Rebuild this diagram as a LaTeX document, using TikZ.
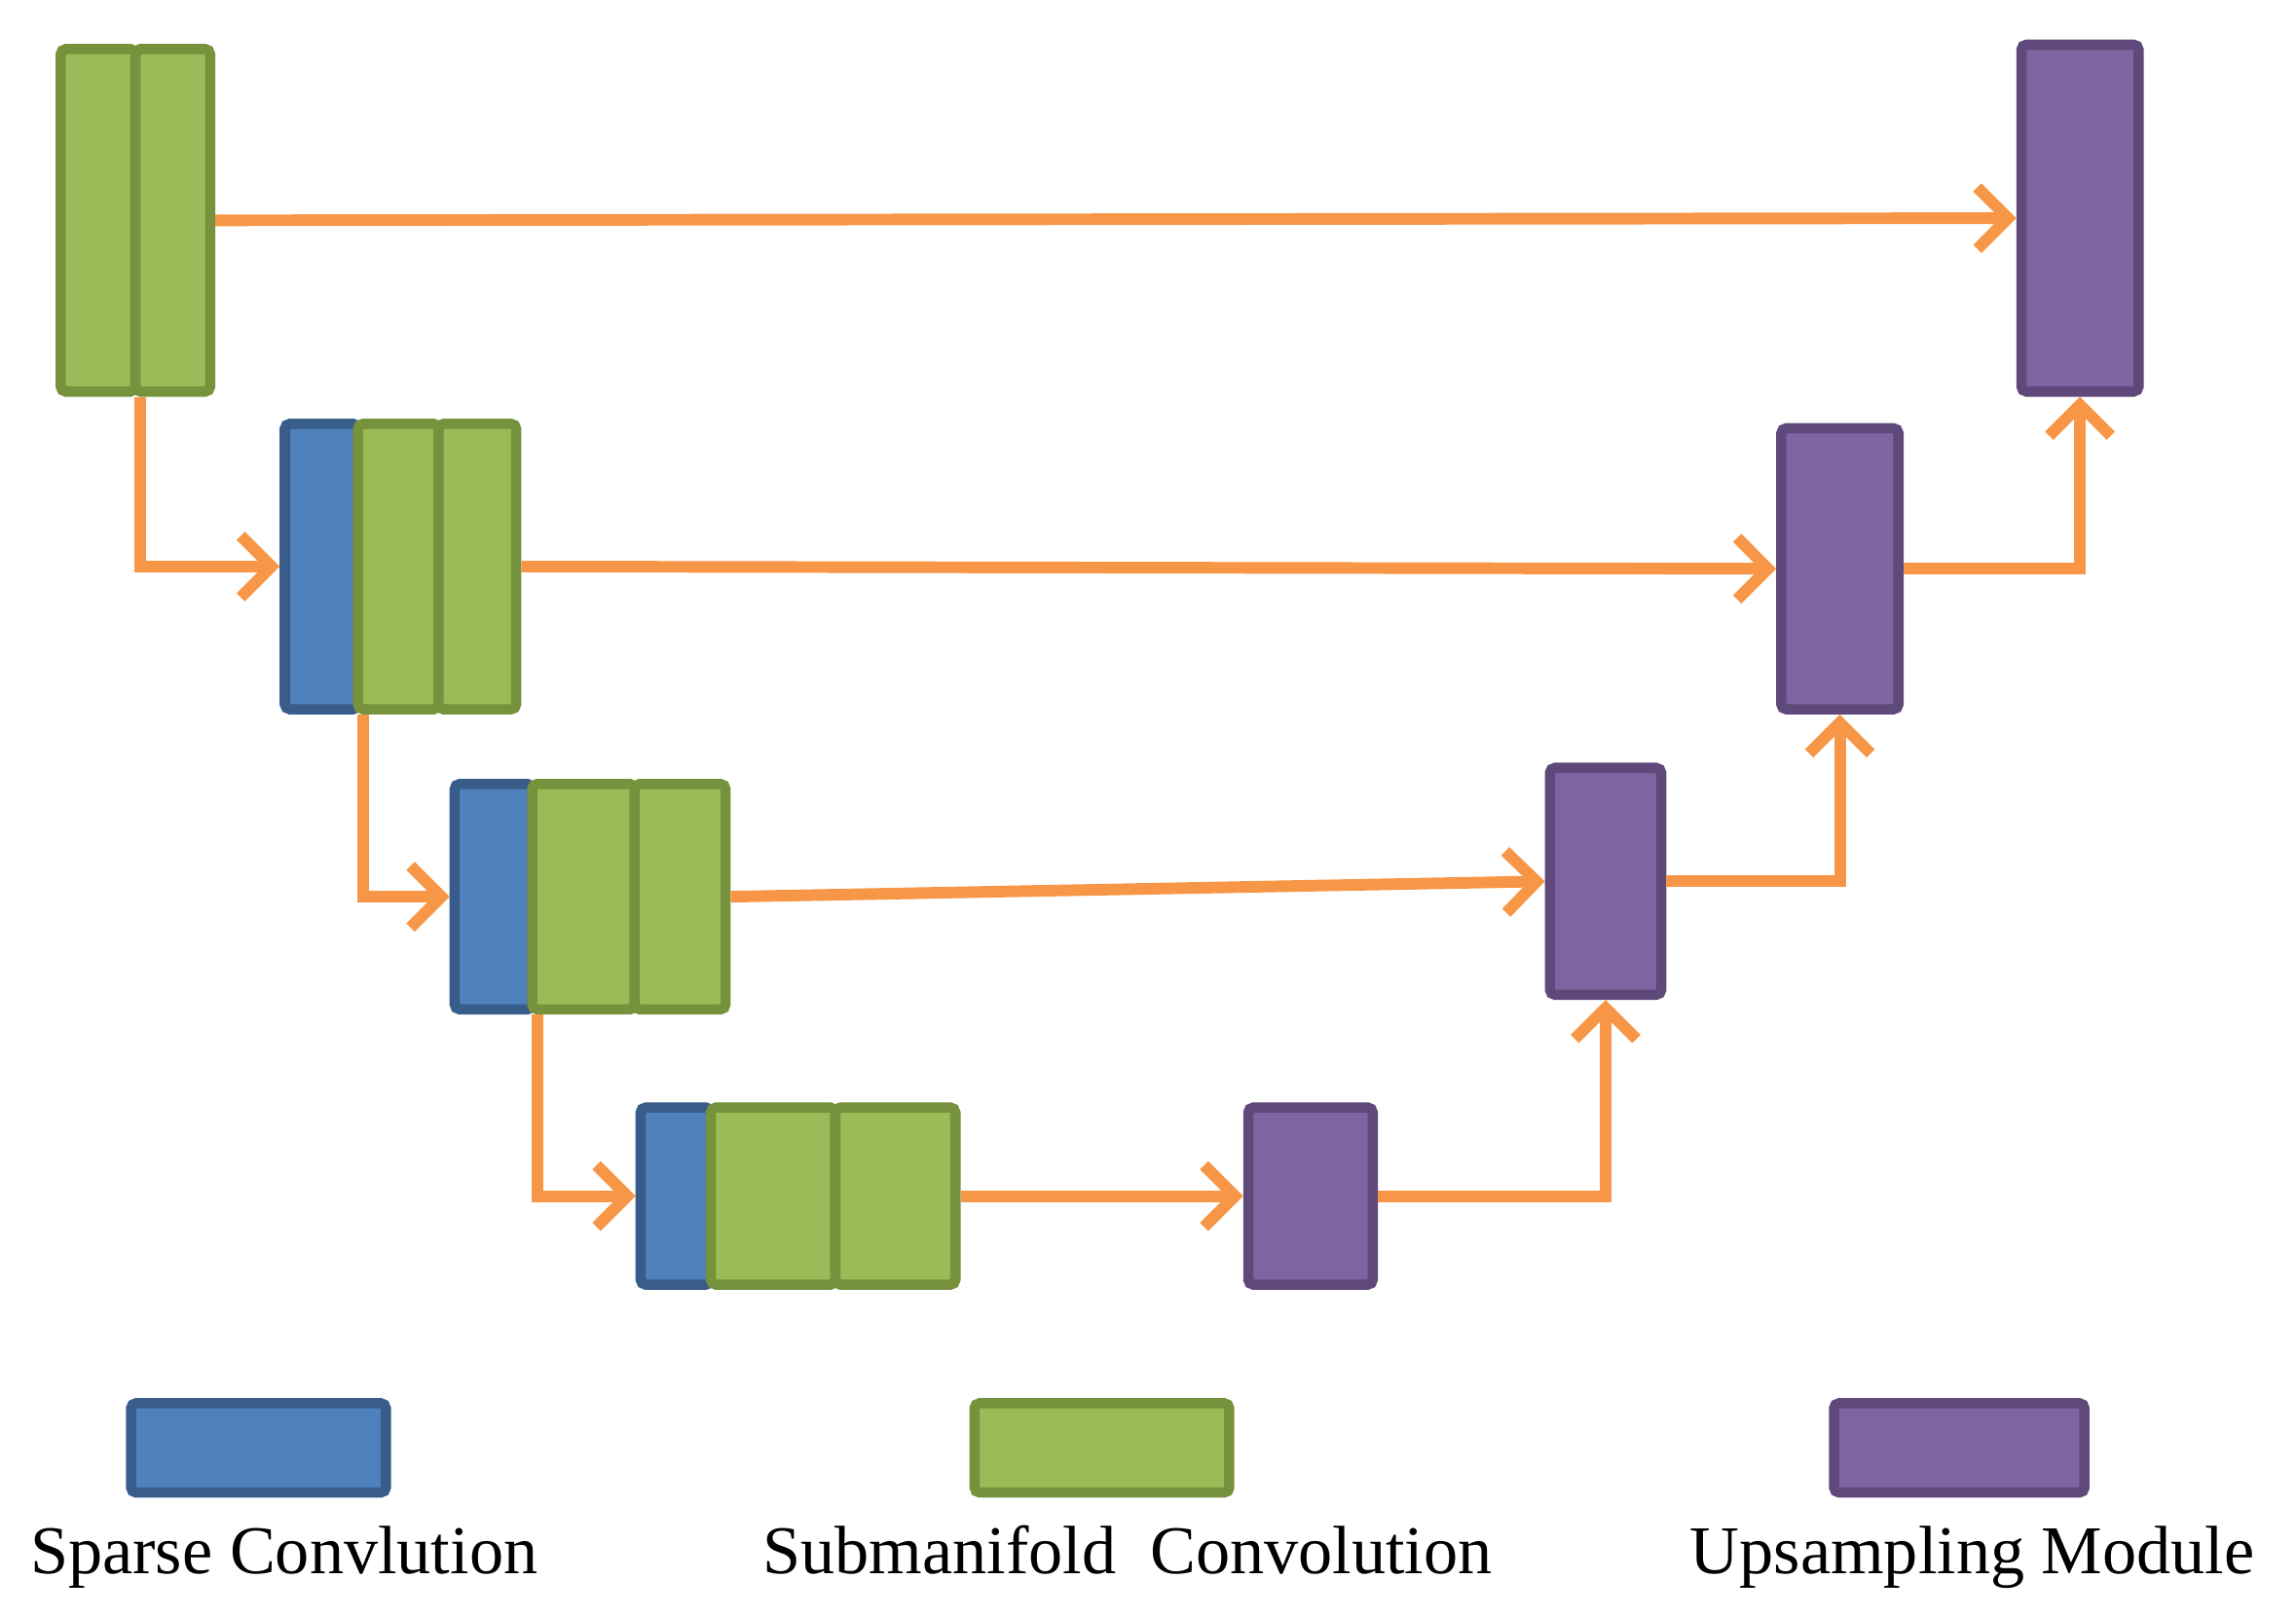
\documentclass[tikz,border=0pt]{standalone}
\usepackage{fontspec}
\setmainfont{Liberation Serif}
\usetikzlibrary{arrows.meta}
\begin{document}
\def\pu{0.01504cm}
\begin{tikzpicture}[x=0.01504cm,y=-0.01504cm,
  cell/.style={draw,line width=3pt,rounded corners=1.5pt,anchor=north west,inner sep=0pt},
  gr/.style={cell,fill={rgb,255:red,155;green,187;blue,89},draw={rgb,255:red,118;green,146;blue,60}},
  bl/.style={cell,fill={rgb,255:red,79;green,129;blue,189},draw={rgb,255:red,56;green,93;blue,138}},
  pp/.style={cell,fill={rgb,255:red,128;green,100;blue,162},draw={rgb,255:red,95;green,73;blue,122}},
  con/.style={draw={rgb,255:red,247;green,150;blue,70},line width=3.4pt,-{Straight Barb[length=9pt,width=18pt,line width=3.4pt]}},
  lab/.style={font=\fontsize{20}{24}\selectfont,anchor=base}]
\useasboundingbox (0,0) rectangle (1568,1104);
% block 1
\node[gr,minimum width=51*\pu,minimum height=234*\pu] (b1a) at (38,30) {};
\node[gr,minimum width=51*\pu,minimum height=234*\pu] (b1b) at (89,30) {};
% block 2
\node[bl,minimum width=50*\pu,minimum height=195*\pu] (b2s) at (191,286) {};
\node[gr,minimum width=55*\pu,minimum height=195*\pu] (b2a) at (241,286) {};
\node[gr,minimum width=53*\pu,minimum height=195*\pu] (b2b) at (296,286) {};
% block 3
\node[bl,minimum width=53*\pu,minimum height=154*\pu] (b3s) at (307,532) {};
\node[gr,minimum width=70*\pu,minimum height=154*\pu] (b3a) at (360,532) {};
\node[gr,minimum width=62*\pu,minimum height=154*\pu] (b3b) at (430,532) {};
% block 4
\node[bl,minimum width=48*\pu,minimum height=121*\pu] (b4s) at (434,753) {};
\node[gr,minimum width=85*\pu,minimum height=121*\pu] (b4a) at (482,753) {};
\node[gr,minimum width=82*\pu,minimum height=121*\pu] (b4b) at (567,753) {};
% upsampling
\node[pp,minimum width=85*\pu,minimum height=121*\pu] (p4) at (849,753) {};
\node[pp,minimum width=76*\pu,minimum height=155*\pu] (p3) at (1055,521) {};
\node[pp,minimum width=80*\pu,minimum height=192*\pu] (p2) at (1213,289) {};
\node[pp,minimum width=80*\pu,minimum height=237*\pu] (p1) at (1377,27) {};
% connectors
\draw[con] (b1b.east) -- (p1.west);
\draw[con] (b1a.south east) |- (b2s.west);
\draw[con] (b2b.east) -- (p2.west);
\draw[con] (b2s.south east) |- (b3s.west);
\draw[con] (b3b.east) -- (p3.west);
\draw[con] (b3s.south east) |- (b4s.west);
\draw[con] (b4b.east) -- (p4.west);
\draw[con] (p4.east) -| (p3.south);
\draw[con] (p3.east) -| (p2.south);
\draw[con] (p2.east) -| (p1.south);
% legend
\node[bl,minimum width=174*\pu,minimum height=61*\pu] (lb) at (86,955) {};
\node[gr,minimum width=174*\pu,minimum height=61*\pu] (lg) at (662,955) {};
\node[pp,minimum width=171*\pu,minimum height=61*\pu] (lp) at (1249,955) {};
\node[lab] (tb) at (194,1075) {Sparse Convlution};
\node[lab] (tg) at (770,1075) {Submanifold\ \ Convolution};
\node[lab] (tp) at (1347,1075) {Upsampling Module};
\end{tikzpicture}
\end{document}
